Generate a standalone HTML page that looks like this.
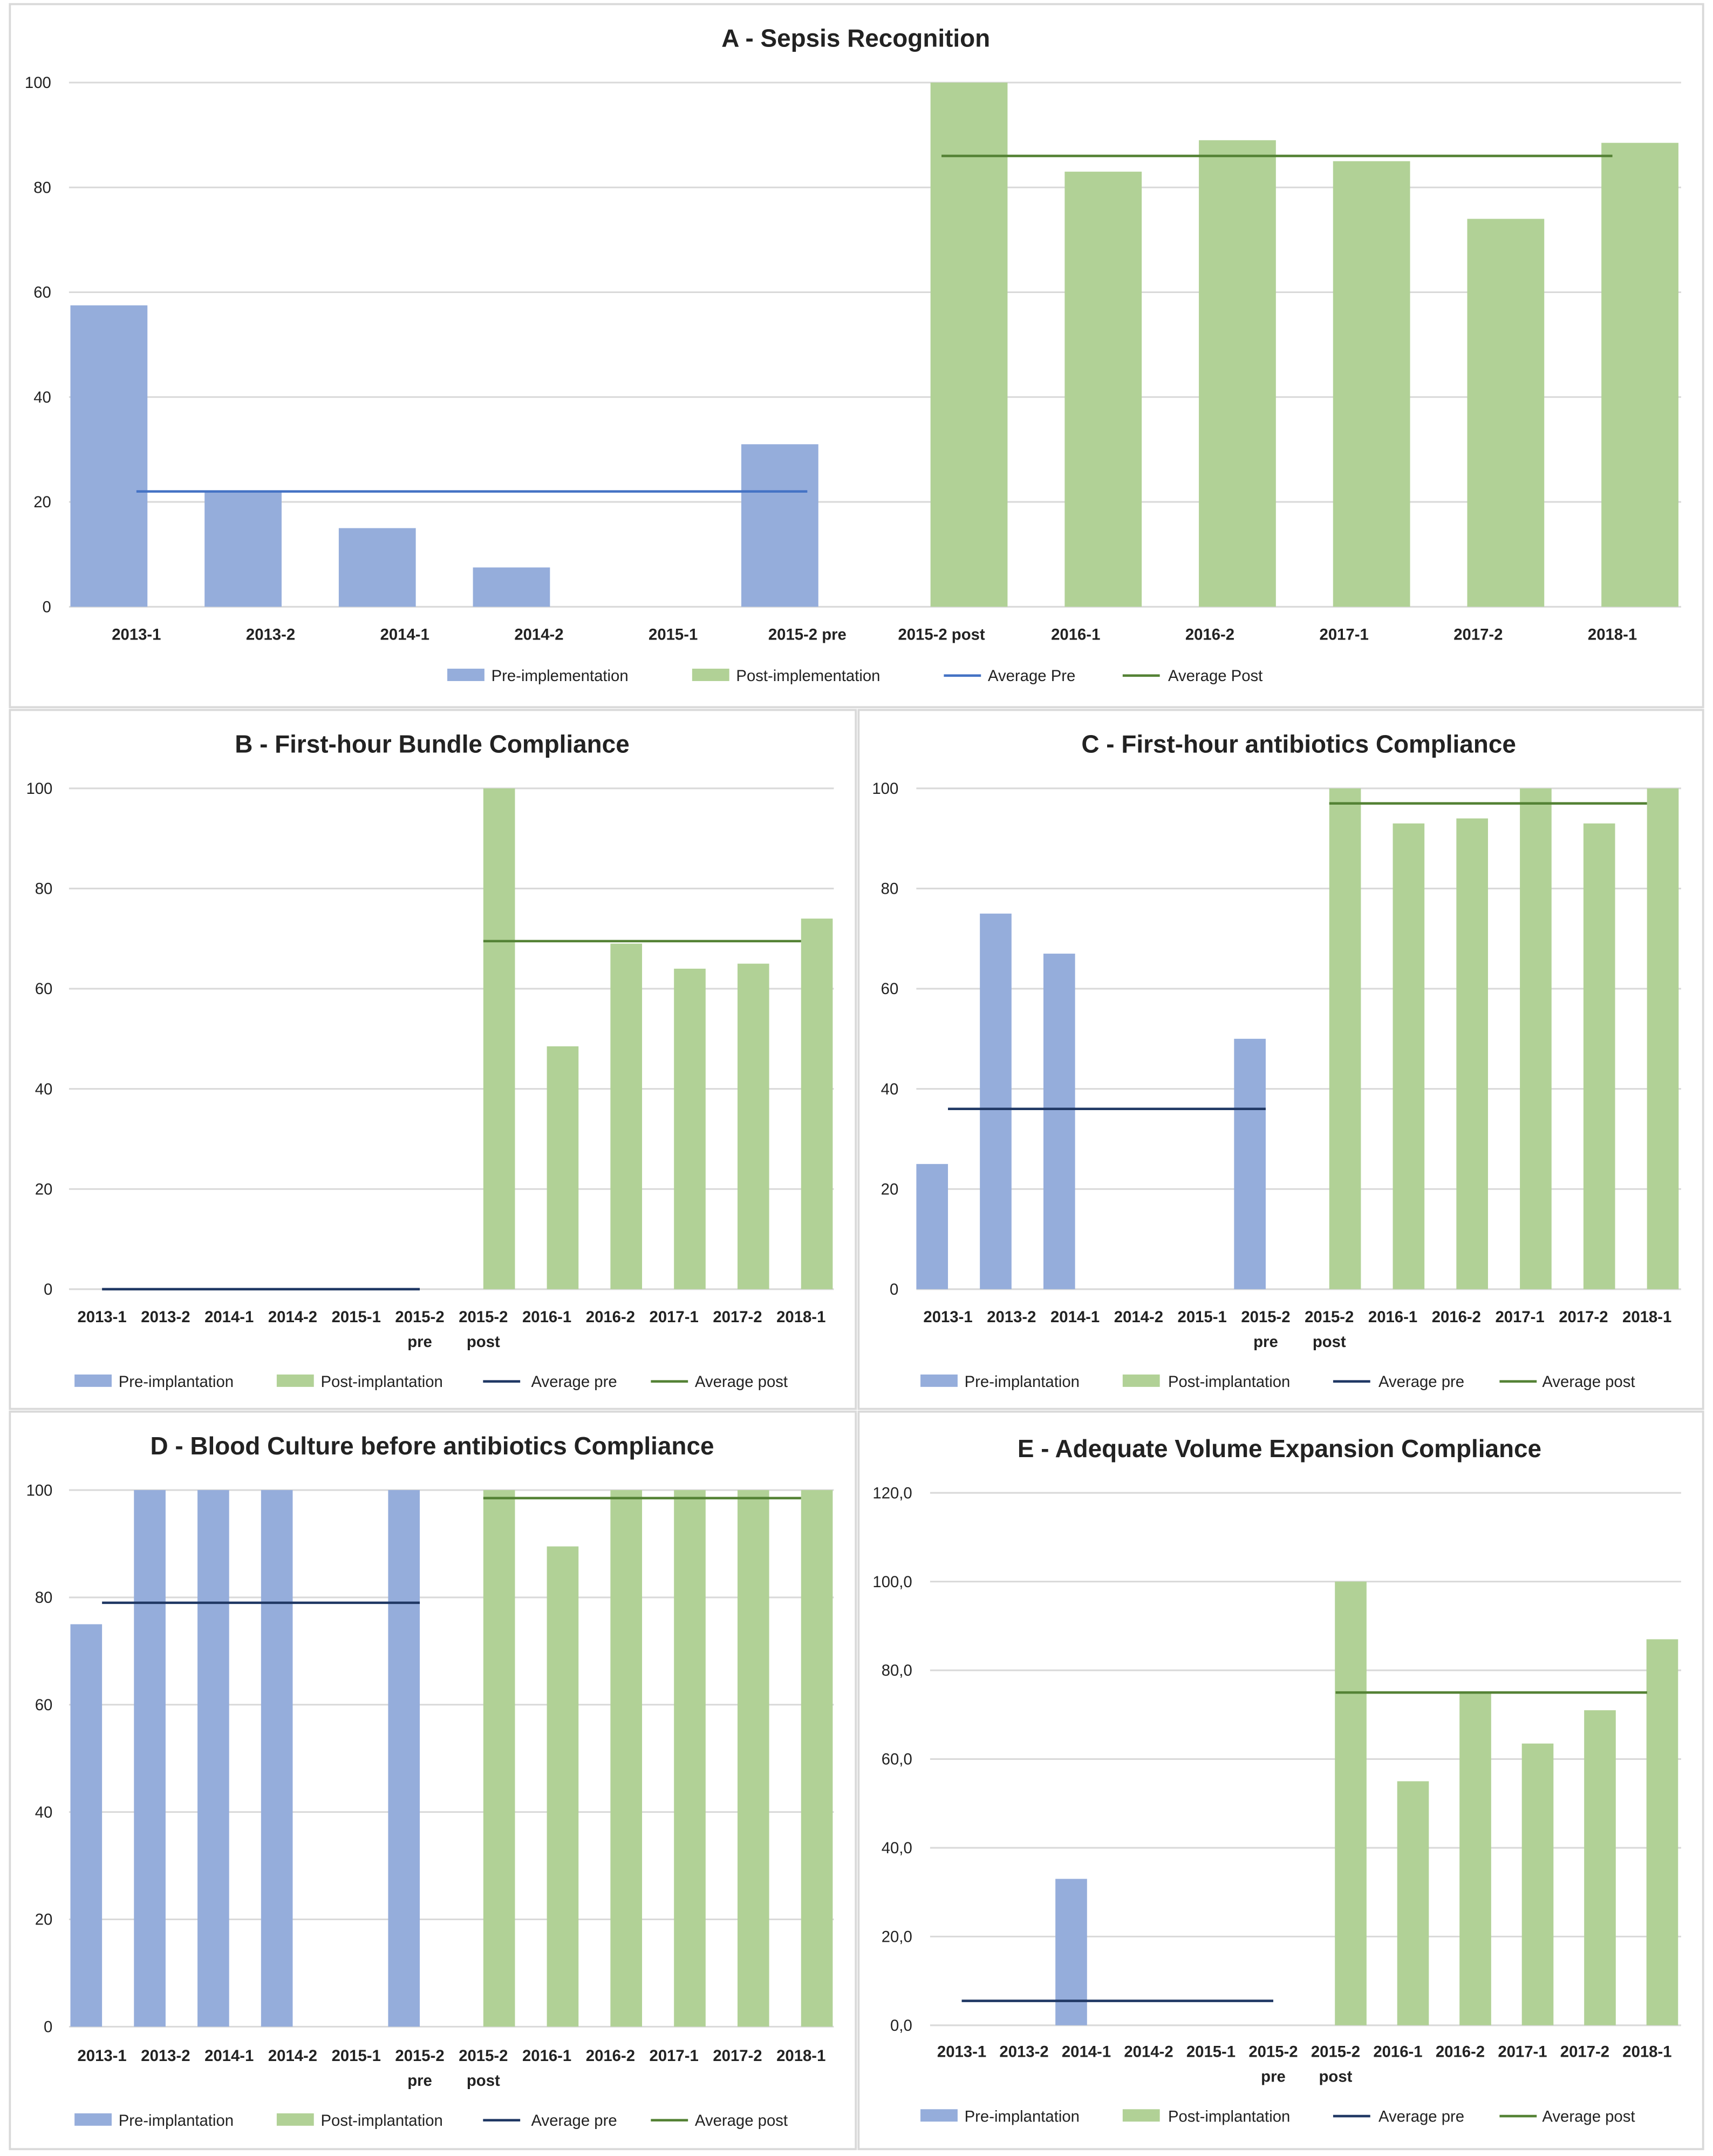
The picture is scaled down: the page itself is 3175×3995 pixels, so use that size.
<!DOCTYPE html>
<html><head><meta charset="utf-8"><style>
html,body{margin:0;padding:0;background:#fff;}
svg{display:block;font-family:"Liberation Sans",Arial,sans-serif;}
</style></head><body>
<svg id="fig" width="3175" height="3995" viewBox="0 0 1245 1567" xmlns="http://www.w3.org/2000/svg"></svg>
<script>
const categoriesA = ["2013-1","2013-2","2014-1","2014-2","2015-1","2015-2 pre","2015-2 post","2016-1","2016-2","2017-1","2017-2","2018-1"];
const categoriesBCDE = [["2013-1"],["2013-2"],["2014-1"],["2014-2"],["2015-1"],["2015-2","pre"],["2015-2","post"],["2016-1"],["2016-2"],["2017-1"],["2017-2"],["2018-1"]];
const preA = [57.5,22,15,7.5,0,31,null,null,null,null,null,null];
const postA = [null,null,null,null,null,null,100,83,89,85,74,88.5];
const avgA = [22,86];
const preB = [0,0,0,0,0,0,null,null,null,null,null,null];
const postB = [null,null,null,null,null,null,100,48.5,69,64,65,74];
const avgB = [0,69.5];
const preC = [25,75,67,0,0,50,null,null,null,null,null,null];
const postC = [null,null,null,null,null,null,100,93,94,100,93,100];
const avgC = [36,97];
const preD = [75,100,100,100,0,100,null,null,null,null,null,null];
const postD = [null,null,null,null,null,null,100,89.5,100,100,100,100];
const avgD = [79,98.5];
const preE = [0,0,33,0,0,0,null,null,null,null,null,null];
const postE = [null,null,null,null,null,null,100,55,75,63.5,71,87];
const avgE = [5.5,75];
const ticks100 = ["0","20","40","60","80","100"];
const ticks120 = ["0,0","20,0","40,0","60,0","80,0","100,0","120,0"];

const NS="http://www.w3.org/2000/svg";
const svg=document.getElementById('fig');
function mk(tag,attrs,parent){const e=document.createElementNS(NS,tag);for(const k in attrs)e.setAttribute(k,attrs[k]);(parent||svg).appendChild(e);return e;}
function txt(s,x,y,size,anchor,weight,parent){const t=mk('text',{x:x,y:y,'font-size':size,'text-anchor':anchor||'middle','font-weight':weight||'normal',fill:'#222'},parent);t.textContent=s;return t;}

function chart(cfg){
  const g=mk('g',{});
  
  
  const b=mk('rect',{x:cfg.box[0],y:cfg.box[1],width:cfg.box[2],height:cfg.box[3],fill:'#fff',stroke:'#d9d9d9','stroke-width':1.5},g);
  
  
  const t=txt(cfg.title,cfg.titleX,cfg.titleY,18,'middle','bold',g);
  
  
  const ymax=cfg.ymax;
  const Y=v=>cfg.y0-(v/ymax)*(cfg.y0-cfg.yTop);
  const X=i=>cfg.x0+i*cfg.dx;
  const n=cfg.ticks.length;
  for(let k=0;k<n;k++){
    const v=k*ymax/(n-1);
    const gl=mk('line',{x1:cfg.gx[0],x2:cfg.gx[1],y1:Y(v),y2:Y(v),stroke:'#d9d9d9','stroke-width':1.2},g);
    
    
    const tl=txt(cfg.ticks[k],cfg.tickX,Y(v)+4,11.5,'end','normal',g);
    
    
  }
  cfg.cats.forEach((c,i)=>{
    const lines=Array.isArray(c)?c:[c];
    lines.forEach((s,j)=>{
      const l=txt(s,X(i),cfg.labelY+j*18,11.5,'middle','bold',g);
      
      
    });
  });
  const bar=(arr,color,nm,off)=>arr.forEach((v,i)=>{
    if(v===null||v<=0)return;
    const r=mk('rect',{x:X(i)+off-cfg.bw/2,y:Y(v),width:cfg.bw,height:cfg.y0-Y(v),fill:color},g);
    
    
  });
  bar(cfg.pre,'#95ADDB','pre',-cfg.off);
  bar(cfg.post,'#B1D196','post',cfg.off);
  const a1=mk('line',{x1:X(0),x2:X(5),y1:Y(cfg.avg[0]),y2:Y(cfg.avg[0]),stroke:cfg.preLine,'stroke-width':1.8},g);
  
  
  const a2=mk('line',{x1:X(6),x2:X(11),y1:Y(cfg.avg[1]),y2:Y(cfg.avg[1]),stroke:'#548235','stroke-width':1.8},g);
  
  
  const L=cfg.legend, ly=cfg.legendY;
  const e1=mk('rect',{x:L[0],y:ly-5,width:27,height:9,fill:'#95ADDB'},g);
  
  
  const e2=mk('rect',{x:L[2],y:ly-5,width:27,height:9,fill:'#B1D196'},g);
  
  
  const e3=mk('line',{x1:L[4],x2:L[4]+27,y1:ly,y2:ly,stroke:cfg.preLine,'stroke-width':1.8},g);
  
  
  const e4=mk('line',{x1:L[6],x2:L[6]+27,y1:ly,y2:ly,stroke:'#548235','stroke-width':1.8},g);
  
  
  for(let k=0;k<4;k++){
    const lt=txt(cfg.legendText[k],L[2*k+1],ly+4,11.5,'start','normal',g);
    
    
  }
}

chart({name:'chart-a-sepsis-recognition',box:[7,3,1231,511],title:'A - Sepsis Recognition',titleX:622,titleY:34,
  y0:441,yTop:60,ymax:100,ticks:ticks100,tickX:37,gx:[50,1222],x0:99,dx:97.55,bw:56,off:20,labelY:465,
  cats:categoriesA,pre:preA,post:postA,avg:avgA,preLine:'#4472C4',
  legendY:491,legend:[325,357,503,535,686,718,816,849],legendText:['Pre-implementation','Post-implementation','Average Pre','Average Post']});
chart({name:'chart-b-bundle-compliance',box:[7,516,615,508],title:'B - First-hour Bundle Compliance',titleX:314,titleY:547,
  y0:937,yTop:573,ymax:100,ticks:ticks100,tickX:38,gx:[50,606],x0:74,dx:46.2,bw:23,off:11.5,labelY:961,
  cats:categoriesBCDE,pre:preB,post:postB,avg:avgB,preLine:'#203864',
  legendY:1004,legend:[54,86,201,233,351,386,473,505],legendText:['Pre-implantation','Post-implantation','Average pre','Average post']});
chart({name:'chart-c-antibiotics-compliance',box:[624,516,614,508],title:'C - First-hour antibiotics Compliance',titleX:944,titleY:547,
  y0:937,yTop:573,ymax:100,ticks:ticks100,tickX:653,gx:[666,1222],x0:689,dx:46.2,bw:23,off:11.5,labelY:961,
  cats:categoriesBCDE,pre:preC,post:postC,avg:avgC,preLine:'#203864',
  legendY:1004,legend:[669,701,816,849,969,1002,1090,1121],legendText:['Pre-implantation','Post-implantation','Average pre','Average post']});
chart({name:'chart-d-blood-culture-compliance',box:[7,1026,615,536],title:'D - Blood Culture before antibiotics Compliance',titleX:314,titleY:1057,
  y0:1473,yTop:1083,ymax:100,ticks:ticks100,tickX:38,gx:[50,606],x0:74,dx:46.2,bw:23,off:11.5,labelY:1498,
  cats:categoriesBCDE,pre:preD,post:postD,avg:avgD,preLine:'#203864',
  legendY:1541,legend:[54,86,201,233,351,386,473,505],legendText:['Pre-implantation','Post-implantation','Average pre','Average post']});
chart({name:'chart-e-volume-expansion-compliance',box:[624,1026,614,536],title:'E - Adequate Volume Expansion Compliance',titleX:930,titleY:1059,
  y0:1472,yTop:1085,ymax:120,ticks:ticks120,tickX:663,gx:[676,1222],x0:699,dx:45.3,bw:23,off:11,labelY:1495,
  cats:categoriesBCDE,pre:preE,post:postE,avg:avgE,preLine:'#203864',
  legendY:1538,legend:[669,701,816,849,969,1002,1090,1121],legendText:['Pre-implantation','Post-implantation','Average pre','Average post']});
</script>
</body></html>
